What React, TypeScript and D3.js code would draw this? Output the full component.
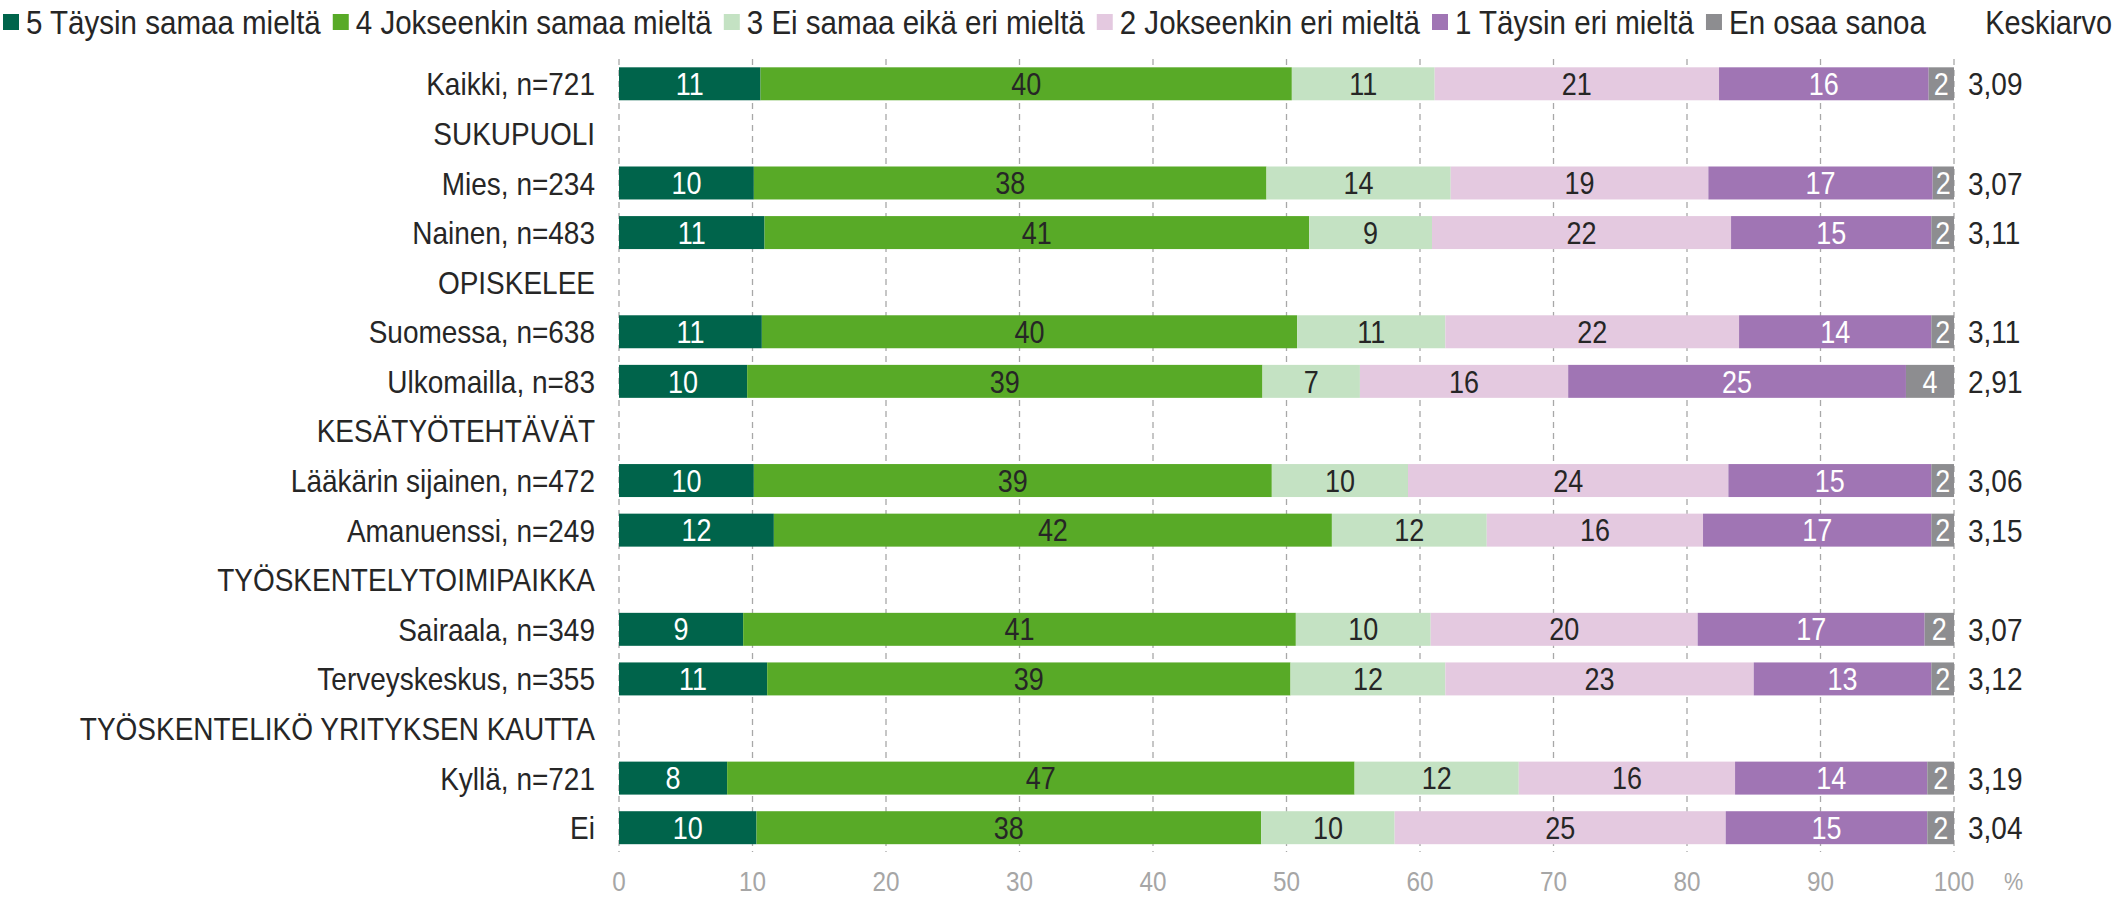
import React, { useEffect, useRef } from "react";
import { select, scaleLinear, scaleBand, range } from "d3";

const categories = [
  "Kaikki, n=721",
  "SUKUPUOLI",
  "Mies, n=234",
  "Nainen, n=483",
  "OPISKELEE",
  "Suomessa, n=638",
  "Ulkomailla, n=83",
  "KESÄTYÖTEHTÄVÄT",
  "Lääkärin sijainen, n=472",
  "Amanuenssi, n=249",
  "TYÖSKENTELYTOIMIPAIKKA",
  "Sairaala, n=349",
  "Terveyskeskus, n=355",
  "TYÖSKENTELIKÖ YRITYKSEN KAUTTA",
  "Kyllä, n=721",
  "Ei",
];

// null = otsikkorivi (ei palkkia)
const values: (number[] | null)[] = [
  [10.6, 39.8, 10.7, 21.3, 15.7, 1.9],
  null,
  [10.1, 38.4, 13.8, 19.3, 16.8, 1.6],
  [10.9, 40.8, 9.2, 22.4, 15.0, 1.7],
  null,
  [10.7, 40.1, 11.1, 22.0, 14.4, 1.7],
  [9.6, 38.6, 7.3, 15.6, 25.3, 3.6],
  null,
  [10.1, 38.8, 10.2, 24.0, 15.2, 1.7],
  [11.6, 41.8, 11.6, 16.2, 17.1, 1.7],
  null,
  [9.3, 41.4, 10.1, 20.0, 17.0, 2.2],
  [11.1, 39.2, 11.6, 23.1, 13.3, 1.7],
  null,
  [8.1, 47.0, 12.3, 16.2, 14.4, 2.0],
  [10.3, 37.8, 10.0, 24.8, 15.1, 2.0],
];

const means: (string | null)[] = [
  "3,09", null, "3,07", "3,11", null, "3,11", "2,91", null,
  "3,06", "3,15", null, "3,07", "3,12", null, "3,19", "3,04",
];

const seriesNames = [
  "5 Täysin samaa mieltä",
  "4 Jokseenkin samaa mieltä",
  "3 Ei samaa eikä eri mieltä",
  "2 Jokseenkin eri mieltä",
  "1 Täysin eri mieltä",
  "En osaa sanoa",
];

const colors = ["#00644b", "#58aa27", "#c4e2c3", "#e4c9e0", "#a075b4", "#8d8d90"];
const labelColors = ["#fff", "#262626", "#262626", "#262626", "#fff", "#fff"];

const xTicks = range(0, 101, 10);

const W = 2117;
const H = 897;
const FONT = "'Liberation Sans', Arial, sans-serif";

// kapeahko teksti: isompi fontti, kavennettu vaakasuunnassa
function addText(
  parent: any,
  x: number,
  y: number,
  str: string,
  size: number,
  sx: number,
  fill: string,
  anchor = "start"
) {
  return parent
    .append("text")
    .attr("transform", `translate(${x},${y}) scale(${sx},1)`)
    .attr("dy", "0.36em")
    .attr("text-anchor", anchor)
    .attr("font-family", FONT)
    .attr("font-size", size)
    .attr("fill", fill)
    .text(str);
}

export default function App() {
  const ref = useRef<SVGSVGElement>(null);

  useEffect(() => {
    if (!ref.current) return;
    const svg = select(ref.current);
    svg.selectAll("*").remove();

    const x = scaleLinear().domain([0, 100]).range([619, 1954]);
    const y = scaleBand<string>()
      .domain(categories)
      .range([59, 852.5])
      .paddingInner(0.335)
      .paddingOuter(0.1675);
    const bh = y.bandwidth();

    // gridlines
    svg
      .append("g")
      .selectAll("line")
      .data(xTicks)
      .join("line")
      .attr("x1", (d) => x(d))
      .attr("x2", (d) => x(d))
      .attr("y1", 59)
      .attr("y2", 852)
      .attr("stroke", "#a8a8a8")
      .attr("stroke-width", 1.3)
      .attr("stroke-dasharray", "6,5");

    // bars
    const gBars = svg.append("g");
    categories.forEach((c, i) => {
      const v = values[i];
      if (!v) return;
      const g = gBars.append("g").attr("transform", `translate(0,${y(c)})`);
      let acc = 0;
      const segs = v.map((val, k) => {
        const s = { x0: acc, v: val, k };
        acc += val;
        return s;
      });
      g.selectAll("rect")
        .data(segs)
        .join("rect")
        .attr("x", (s) => x(s.x0))
        .attr("width", (s) => x(s.x0 + s.v) - x(s.x0))
        .attr("y", 0)
        .attr("height", bh)
        .attr("fill", (s) => colors[s.k]);
      segs.forEach((s) => {
        addText(g, x(s.x0 + s.v / 2), bh / 2, String(Math.round(s.v)), 31, 0.87, labelColors[s.k], "middle");
      });
    });

    // category labels + means
    const gLab = svg.append("g");
    categories.forEach((c, i) => {
      const cy = (y(c) as number) + bh / 2;
      addText(gLab, 595, cy, c, 32, 0.875, "#262626", "end");
      if (means[i]) addText(gLab, 1968, cy, means[i] as string, 32, 0.875, "#262626");
    });

    // x axis labels
    const gAx = svg.append("g");
    xTicks.forEach((t) => addText(gAx, x(t), 881, String(t), 27, 0.9, "#a6a6a6", "middle"));
    addText(gAx, 2004, 881, "%", 24, 0.9, "#a6a6a6");

    // legend
    const legend = svg.append("g").attr("transform", "translate(0,22)");
    let lx = 3;
    const lsx = 0.895;
    seriesNames.forEach((name, k) => {
      legend
        .append("rect")
        .attr("x", lx)
        .attr("y", -8)
        .attr("width", 16)
        .attr("height", 16)
        .attr("fill", colors[k]);
      const t = addText(legend, lx + 23, 0, name, 33, lsx, "#262626");
      const w = (t.node() as SVGTextElement).getComputedTextLength() * lsx;
      lx += 23 + w + 12;
    });
    addText(legend, 2112, 0, "Keskiarvo", 33, 0.875, "#262626", "end");
  }, []);

  return (
    <svg
      ref={ref}
      width={W}
      height={H}
      style={{ position: "absolute", left: 0, top: 0, background: "#fff" }}
    />
  );
}
